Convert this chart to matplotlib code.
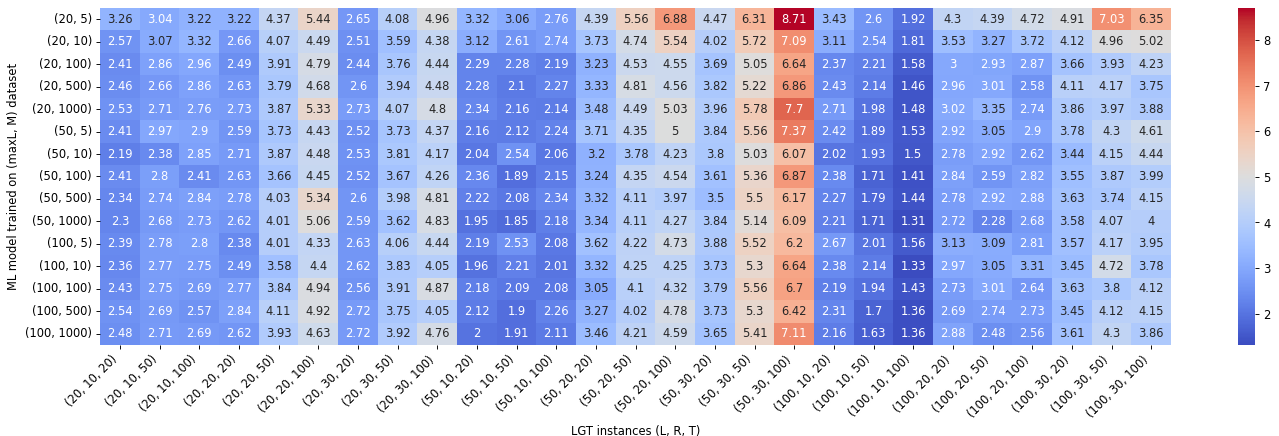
import numpy as np
import pandas as pd
import matplotlib
matplotlib.use("Agg")
import matplotlib.pyplot as plt
import seaborn as sns

col_labels = ["(20, 10, 20)", "(20, 10, 50)", "(20, 10, 100)", "(20, 20, 20)", "(20, 20, 50)",
              "(20, 20, 100)", "(20, 30, 20)", "(20, 30, 50)", "(20, 30, 100)", "(50, 10, 20)",
              "(50, 10, 50)", "(50, 10, 100)", "(50, 20, 20)", "(50, 20, 50)", "(50, 20, 100)",
              "(50, 30, 20)", "(50, 30, 50)", "(50, 30, 100)", "(100, 10, 20)", "(100, 10, 50)",
              "(100, 10, 100)", "(100, 20, 20)", "(100, 20, 50)", "(100, 20, 100)", "(100, 30, 20)",
              "(100, 30, 50)", "(100, 30, 100)"]
row_labels = ["(20, 5)", "(20, 10)", "(20, 100)", "(20, 500)", "(20, 1000)",
              "(50, 5)", "(50, 10)", "(50, 100)", "(50, 500)", "(50, 1000)",
              "(100, 5)", "(100, 10)", "(100, 100)", "(100, 500)", "(100, 1000)"]

r_20_5 = [3.26, 3.04, 3.22, 3.22, 4.37, 5.44, 2.65, 4.08, 4.96, 3.32, 3.06, 2.76, 4.39, 5.56, 6.88, 4.47, 6.31, 8.71, 3.43, 2.6, 1.92, 4.3, 4.39, 4.72, 4.91, 7.03, 6.35]
r_20_10 = [2.57, 3.07, 3.32, 2.66, 4.07, 4.49, 2.51, 3.59, 4.38, 3.12, 2.61, 2.74, 3.73, 4.74, 5.54, 4.02, 5.72, 7.09, 3.11, 2.54, 1.81, 3.53, 3.27, 3.72, 4.12, 4.96, 5.02]
r_20_100 = [2.41, 2.86, 2.96, 2.49, 3.91, 4.79, 2.44, 3.76, 4.44, 2.29, 2.28, 2.19, 3.23, 4.53, 4.55, 3.69, 5.05, 6.64, 2.37, 2.21, 1.58, 3, 2.93, 2.87, 3.66, 3.93, 4.23]
r_20_500 = [2.46, 2.66, 2.86, 2.63, 3.79, 4.68, 2.6, 3.94, 4.48, 2.28, 2.1, 2.27, 3.33, 4.81, 4.56, 3.82, 5.22, 6.86, 2.43, 2.14, 1.46, 2.96, 3.01, 2.58, 4.11, 4.17, 3.75]
r_20_1000 = [2.53, 2.71, 2.76, 2.73, 3.87, 5.33, 2.73, 4.07, 4.8, 2.34, 2.16, 2.14, 3.48, 4.49, 5.03, 3.96, 5.78, 7.7, 2.71, 1.98, 1.48, 3.02, 3.35, 2.74, 3.86, 3.97, 3.88]
r_50_5 = [2.41, 2.97, 2.9, 2.59, 3.73, 4.43, 2.52, 3.73, 4.37, 2.16, 2.12, 2.24, 3.71, 4.35, 5, 3.84, 5.56, 7.37, 2.42, 1.89, 1.53, 2.92, 3.05, 2.9, 3.78, 4.3, 4.61]
r_50_10 = [2.19, 2.38, 2.85, 2.71, 3.87, 4.48, 2.53, 3.81, 4.17, 2.04, 2.54, 2.06, 3.2, 3.78, 4.23, 3.8, 5.03, 6.07, 2.02, 1.93, 1.5, 2.78, 2.92, 2.62, 3.44, 4.15, 4.44]
r_50_100 = [2.41, 2.8, 2.41, 2.63, 3.66, 4.45, 2.52, 3.67, 4.26, 2.36, 1.89, 2.15, 3.24, 4.35, 4.54, 3.61, 5.36, 6.87, 2.38, 1.71, 1.41, 2.84, 2.59, 2.82, 3.55, 3.87, 3.99]
r_50_500 = [2.34, 2.74, 2.84, 2.78, 4.03, 5.34, 2.6, 3.98, 4.81, 2.22, 2.08, 2.34, 3.32, 4.11, 3.97, 3.5, 5.5, 6.17, 2.27, 1.79, 1.44, 2.78, 2.92, 2.88, 3.63, 3.74, 4.15]
r_50_1000 = [2.3, 2.68, 2.73, 2.62, 4.01, 5.06, 2.59, 3.62, 4.83, 1.95, 1.85, 2.18, 3.34, 4.11, 4.27, 3.84, 5.14, 6.09, 2.21, 1.71, 1.31, 2.72, 2.28, 2.68, 3.58, 4.07, 4]
r_100_5 = [2.39, 2.78, 2.8, 2.38, 4.01, 4.33, 2.63, 4.06, 4.44, 2.19, 2.53, 2.08, 3.62, 4.22, 4.73, 3.88, 5.52, 6.2, 2.67, 2.01, 1.56, 3.13, 3.09, 2.81, 3.57, 4.17, 3.95]
r_100_10 = [2.36, 2.77, 2.75, 2.49, 3.58, 4.4, 2.62, 3.83, 4.05, 1.96, 2.21, 2.01, 3.32, 4.25, 4.25, 3.73, 5.3, 6.64, 2.38, 2.14, 1.33, 2.97, 3.05, 3.31, 3.45, 4.72, 3.78]
r_100_100 = [2.43, 2.75, 2.69, 2.77, 3.84, 4.94, 2.56, 3.91, 4.87, 2.18, 2.09, 2.08, 3.05, 4.1, 4.32, 3.79, 5.56, 6.7, 2.19, 1.94, 1.43, 2.73, 3.01, 2.64, 3.63, 3.8, 4.12]
r_100_500 = [2.54, 2.69, 2.57, 2.84, 4.11, 4.92, 2.72, 3.75, 4.05, 2.12, 1.9, 2.26, 3.27, 4.02, 4.78, 3.73, 5.3, 6.42, 2.31, 1.7, 1.36, 2.69, 2.74, 2.73, 3.45, 4.12, 4.15]
r_100_1000 = [2.48, 2.71, 2.69, 2.62, 3.93, 4.63, 2.72, 3.92, 4.76, 2, 1.91, 2.11, 3.46, 4.21, 4.59, 3.65, 5.41, 7.11, 2.16, 1.63, 1.36, 2.88, 2.48, 2.56, 3.61, 4.3, 3.86]

rows = [r_20_5, r_20_10, r_20_100, r_20_500, r_20_1000,
        r_50_5, r_50_10, r_50_100, r_50_500, r_50_1000,
        r_100_5, r_100_10, r_100_100, r_100_500, r_100_1000]
df = pd.DataFrame(rows, index=row_labels, columns=col_labels)

DPI = 83
W, H = 1279, 436
fig = plt.figure(figsize=(W / DPI, (H + 0.01) / DPI), dpi=DPI)
ax = fig.add_axes([100 / W, 91 / H, 1071 / W, 337 / H])
cax = fig.add_axes([1238 / W, 91 / H, 17 / W, 337 / H])

sns.heatmap(df, ax=ax, cbar_ax=cax, cmap="coolwarm", annot=True, fmt="g")
ax.set_xlabel("LGT instances (L, R, T)")
ax.set_ylabel("ML model trained on (maxL, M) dataset")
plt.setp(ax.get_xticklabels(), rotation=45, ha="right")
plt.setp(ax.get_yticklabels(), rotation=0)

fig.savefig("out.png", dpi=DPI)
